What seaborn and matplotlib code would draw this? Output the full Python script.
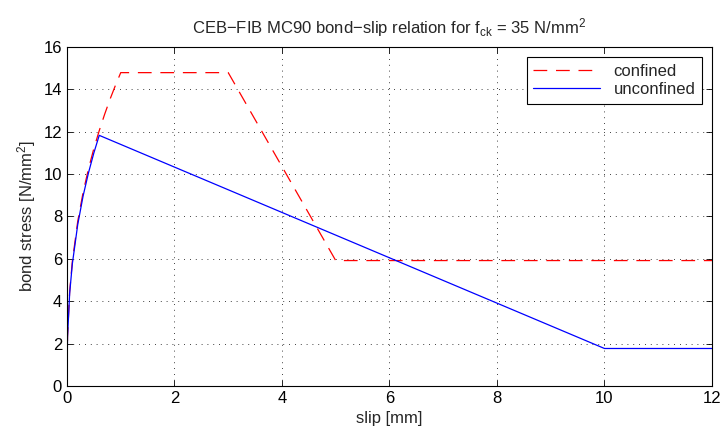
import matplotlib
matplotlib.use("Agg")
import matplotlib.pyplot as plt
import pandas as pd
import seaborn as sns

# --- data ---
SLIP_CONFINED = [0.0, 0.01, 0.05, 0.1, 0.2, 0.3, 0.4, 0.5, 0.6, 0.7, 0.8, 0.9, 1.0, 3.0, 5.0, 12.0]
TAU_CONFINED = [0.0, 2.34, 4.46, 5.89, 7.77, 9.14, 10.25, 11.21, 12.05, 12.82, 13.53, 14.18, 14.79, 14.79, 5.92, 5.92]

SLIP_UNCONFINED = [0.0, 0.01, 0.05, 0.1, 0.2, 0.3, 0.4, 0.5, 0.6, 10.0, 12.0]
TAU_UNCONFINED = [0.0, 2.30, 4.38, 5.77, 7.62, 8.97, 10.06, 11.00, 11.83, 1.77, 1.77]

X_TICKS = [0, 2, 4, 6, 8, 10, 12]
Y_TICKS = [0, 2, 4, 6, 8, 10, 12, 14, 16]

df = pd.concat([
    pd.DataFrame({"slip": SLIP_CONFINED, "tau": TAU_CONFINED, "case": "confined"}),
    pd.DataFrame({"slip": SLIP_UNCONFINED, "tau": TAU_UNCONFINED, "case": "unconfined"}),
])

sns.set_style("white")
plt.rcParams["font.family"] = ["Liberation Sans", "DejaVu Sans"]
plt.rcParams["mathtext.fontset"] = "custom"
plt.rcParams["mathtext.rm"] = "Liberation Sans"
plt.rcParams["mathtext.it"] = "Liberation Sans"

fig = plt.figure(figsize=(7.21, 4.36), dpi=100)
ax = fig.add_axes([0.0929, 0.1147, 0.8946, 0.7775])

sns.lineplot(
    data=df, x="slip", y="tau", hue="case", style="case",
    palette={"confined": "#ff0000", "unconfined": "#0000ff"},
    dashes={"confined": (11, 7), "unconfined": ""},
    sort=False, estimator=None, linewidth=0.9, ax=ax,
)

ax.set_xlim(0, 12)
ax.set_ylim(0, 16)
ax.set_xticks(X_TICKS)
ax.set_yticks(Y_TICKS)
ax.grid(True, color="black", linestyle=(0, (1, 6)), linewidth=0.6)
ax.tick_params(direction="in", length=4, width=0.6, labelsize=12, colors="black",
               top=True, right=True, bottom=True, left=True)
for s in ax.spines.values():
    s.set_visible(True)
    s.set_color("black")
    s.set_linewidth(0.8)

ax.set_xlabel("slip [mm]", fontsize=12)
ax.set_ylabel("bond stress [N/mm$^2$]", fontsize=12)
ax.set_title("CEB\u2212FIB MC90 bond\u2212slip relation for f$_{\\rm ck}$ = 35 N/mm$^2$",
             fontsize=12, pad=10)

leg = ax.legend(loc="upper right", fontsize=12, frameon=True, fancybox=False,
                edgecolor="black", framealpha=1, handlelength=4.0,
                borderaxespad=0.6, labelspacing=0.2, borderpad=0.4)
leg.get_frame().set_linewidth(0.8)

fig.savefig("out.png", dpi=100)
